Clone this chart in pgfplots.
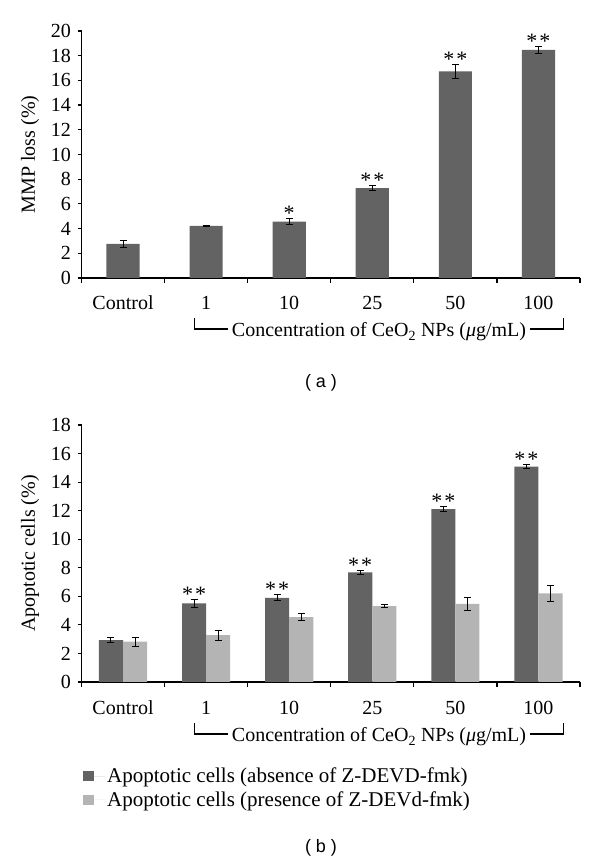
\documentclass[border=0pt]{standalone}
\usepackage{fontspec}
\setmainfont{Liberation Serif}
\newfontfamily\sansf{Liberation Sans}
\usepackage{pgfplots}
\usepackage{pgfplotstable}
\pgfplotsset{compat=1.18}
\definecolor{darkbar}{RGB}{99,99,99}
\definecolor{lightbar}{RGB}{180,180,180}
\newcommand{\fs}{\fontsize{20}{24}\selectfont}

\pgfplotstableread{
x y e
0 2.76 0.30
1 4.22 0.05
2 4.57 0.22
3 7.28 0.22
4 16.73 0.58
5 18.47 0.28
}\mmp

\pgfplotstableread{
x a ea b eb
0 2.93 0.16 2.82 0.30
1 5.50 0.26 3.29 0.35
2 5.90 0.20 4.55 0.25
3 7.68 0.12 5.31 0.12
4 12.10 0.18 5.47 0.46
5 15.08 0.16 6.20 0.53
}\apo

\pgfplotsset{
  common/.style={
    scale only axis, width=498.5pt,
    axis lines*=left,
    axis line style={line width=1.3pt, black},
    xmin=-0.5, xmax=5.5, ymin=0,
    xtick={0,...,5},
    xticklabels={Control,1,10,25,50,100},
    minor xtick={-0.5,0.5,1.5,2.5,3.5,4.5,5.5},
    major x tick style={draw=none},
    tick align=outside,
    major tick length=4pt, minor tick length=5pt,
    tick style={line width=1.2pt, black},
    tick label style={font=\fs},
    label style={font=\fs},
    /pgf/number format/assume math mode=true,
    xticklabel style={anchor=base, yshift=-28pt},
    yticklabel style={anchor=east, inner sep=0pt, xshift=-6.5pt},
    ylabel style={at={(axis description cs:-0.103,0.5)}, anchor=center},
  },
  errb/.style={
    /pgfplots/error bars/y dir=both,
    /pgfplots/error bars/y explicit,
    /pgfplots/error bars/error bar style={line width=1pt, black},
    /pgfplots/error bars/error mark options={rotate=90, line width=1pt, mark size=3.5pt, black},
  },
}
\tikzset{star/.style={anchor=base, inner sep=0pt, yshift=-1.8pt, font=\fontsize{22}{26}\selectfont}}
\newcommand{\two}{*\hspace{2pt}*}

\begin{document}
\begin{tikzpicture}
\useasboundingbox (0,0) rectangle (600pt,863pt);

% ---------- (a) ----------
\begin{axis}[common,
  at={(81.5pt,585pt)}, anchor=south west,
  height=247pt, ymax=20, ytick={0,2,...,20},
  ylabel={MMP loss (\%)},
  ybar, bar width=0.4,
]
\addplot[fill=darkbar, draw=none, errb] table[x=x, y=y, y error=e] {\mmp};
\node[star] at (axis cs:2,4.79) {*};
\node[star] at (axis cs:3,7.50) {\two};
\node[star] at (axis cs:4,17.31) {\two};
\node[star] at (axis cs:5,18.75) {\two};
\end{axis}

\draw[line width=1.2pt] (194.5pt,545pt) -- (194.5pt,534pt) -- (563.5pt,534pt) -- (563.5pt,545pt);
\node[fill=white, anchor=base, inner xsep=4pt, inner ysep=2pt, font=\fs] at (379pt,526pt) {Concentration of CeO\textsubscript{2} NPs (\textit{μ}g/mL)};
\node[font=\sansf\fontsize{18}{22}\selectfont] at (321pt,480pt) {( a )};

% ---------- (b) ----------
\begin{axis}[common,
  at={(81.5pt,181pt)}, anchor=south west,
  height=257pt, ymax=18, ytick={0,2,...,18},
  ylabel={Apoptotic cells (\%)},
  ybar=0pt, bar width=0.29,
  legend style={at={(axis description cs:0,0)}, anchor=north west,
    xshift=1.5pt, yshift=-84pt, draw=none, fill=none,
    font=\fontsize{21}{25}\selectfont, inner sep=0pt, row sep=3pt,
    nodes={inner ysep=2pt}, cells={anchor=west}},
  legend image code/.code={\fill[#1, draw=none] (0pt,-5pt) rectangle (11pt,5pt); \path (0pt,0pt) -- (22pt,0pt);},
]
\addplot[fill=darkbar, draw=none, errb] table[x=x, y=a, y error=ea] {\apo};
\addplot[fill=lightbar, draw=none, errb] table[x=x, y=b, y error=eb] {\apo};
\legend{Apoptotic cells (absence of Z-DEVD-fmk), Apoptotic cells (presence of Z-DEVd-fmk)}
\node[star] at (axis cs:0.855,5.76) {\two};
\node[star] at (axis cs:1.855,6.10) {\two};
\node[star] at (axis cs:2.855,7.80) {\two};
\node[star] at (axis cs:3.855,12.28) {\two};
\node[star] at (axis cs:4.855,15.24) {\two};
\end{axis}

\draw[line width=1.2pt] (194.5pt,140pt) -- (194.5pt,129pt) -- (563.5pt,129pt) -- (563.5pt,140pt);
\node[fill=white, anchor=base, inner xsep=4pt, inner ysep=2pt, font=\fs] at (379pt,121pt) {Concentration of CeO\textsubscript{2} NPs (\textit{μ}g/mL)};
\node[font=\sansf\fontsize{18}{22}\selectfont] at (321pt,15pt) {( b )};
\end{tikzpicture}
\end{document}
